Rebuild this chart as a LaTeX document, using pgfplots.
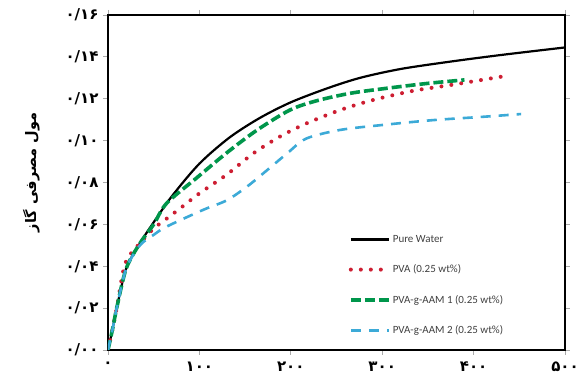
\documentclass[border=0pt]{standalone}
\usepackage{fontspec}
\usepackage{pgfplots}
\pgfplotsset{compat=1.18}
\setmainfont{Carlito}
\newfontfamily\arabicfont[Script=Arabic]{DejaVu Sans}
\TeXXeTstate=1
\definecolor{cred}{RGB}{205,30,50}
\definecolor{cgreen}{RGB}{0,150,75}
\definecolor{cblue}{RGB}{60,170,215}
\definecolor{tickgray}{RGB}{170,170,170}
\begin{document}
\begin{tikzpicture}
\useasboundingbox (-108pt,-32pt) rectangle (471pt,350pt);
\begin{axis}[
  at={(0pt,0pt)}, anchor=south west,
  scale only axis, width=457pt, height=335pt,
  xmin=0, xmax=500, ymin=0, ymax=0.16,
  axis line style={black, line width=1.6pt},
  tick style={tickgray, line width=0.8pt},
  tick align=outside, major tick length=5pt,
  xtick={0,100,200,300,400,500},
  xticklabels={۰,۱۰۰,۲۰۰,۳۰۰,۴۰۰,۵۰۰},
  ytick={0,0.02,0.04,0.06,0.08,0.10,0.12,0.14,0.16},
  yticklabels={۰/۰۰,۰/۰۲,۰/۰۴,۰/۰۶,۰/۰۸,۰/۱۰,۰/۱۲,۰/۱۴,۰/۱۶},
  ticklabel style={font=\arabicfont\bfseries\fontsize{15}{17}\selectfont},
  xticklabel style={yshift=-3pt},
  yticklabel style={xshift=-1pt},
  ylabel={\arabicfont\bfseries\fontsize{14.5}{16}\selectfont\beginR مول مصرفی گاز\endR},
  ylabel style={at={(axis description cs:-0.168,0.53)}, anchor=center},
  legend cell align=left,
  legend style={draw=none, fill=none, at={(rel axis cs:0.52,0.355)}, anchor=north west,
    font=\fontsize{11}{13}\selectfont\color{black!75}, row sep=17pt},
  legend image code/.code={\draw[#1] (0pt,0pt) -- (38pt,0pt);},
]
\addplot[black, line width=2.2pt, smooth] coordinates {
(0,0) (5,0.010) (10,0.021) (20,0.039) (35,0.051) (50,0.061) (70,0.0735) (100,0.089) (133,0.1015) (166,0.1108) (200,0.1183) (240,0.125) (276,0.1300) (320,0.1342) (374,0.1377) (430,0.1409) (500,0.1445)};
\addlegendentry{Pure Water}
\addplot[cred, line width=4pt, line cap=round, dash pattern=on 0pt off 10pt, smooth] coordinates {
(0,0) (5,0.010) (10,0.021) (19,0.0415) (35,0.051) (50,0.058) (62,0.062) (80,0.068) (100,0.0748) (130,0.0838) (159,0.0939) (188,0.1019) (217,0.1082) (254,0.1146) (290,0.1194) (334,0.1238) (374,0.1265) (430,0.1305)};
\addlegendentry{PVA (0.25 wt\%)}
\addplot[cgreen, line width=3.6pt, dash pattern=on 10pt off 4pt, smooth] coordinates {
(0,0) (5,0.010) (10,0.021) (20,0.039) (35,0.051) (50,0.060) (64,0.070) (97,0.0822) (130,0.0942) (163,0.105) (199,0.1146) (228,0.1190) (265,0.1226) (305,0.125) (349,0.1273) (390,0.129)};
\addlegendentry{PVA-g-AAM 1 (0.25 wt\%)}
\addplot[cblue, line width=2.6pt, dash pattern=on 10pt off 8pt, smooth] coordinates {
(0,0) (5,0.010) (10,0.021) (20,0.039) (35,0.050) (50,0.055) (64,0.0589) (104,0.0669) (130,0.0715) (152,0.078) (170,0.0844) (196,0.0939) (217,0.1010) (254,0.1051) (301,0.1075) (356,0.1098) (411,0.1114) (452,0.1127)};
\addlegendentry{PVA-g-AAM 2 (0.25 wt\%)}
\end{axis}
\end{tikzpicture}
\end{document}
